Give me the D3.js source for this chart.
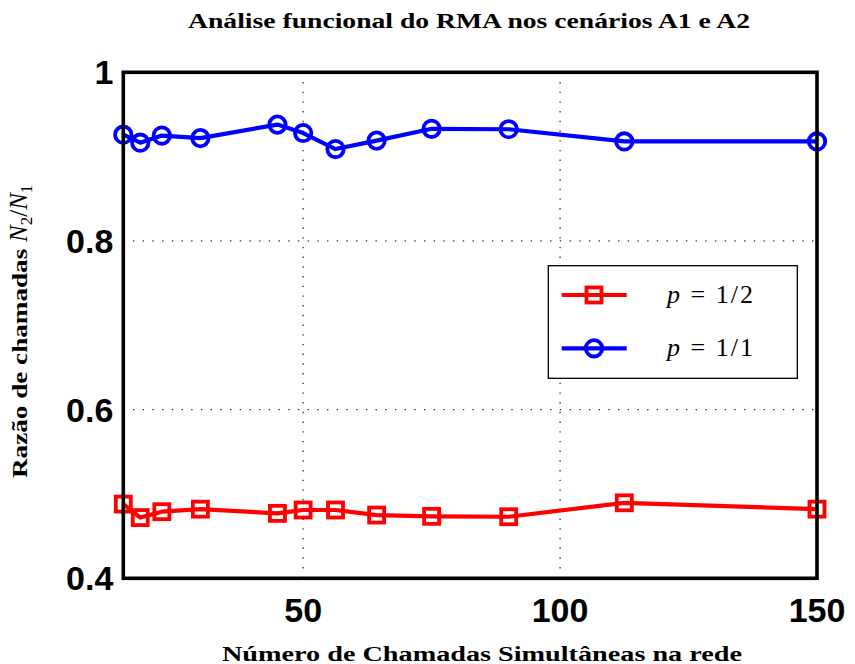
<!DOCTYPE html>
<html>
<head>
<meta charset="utf-8">
<script src="https://cdn.jsdelivr.net/npm/d3@7"></script>
<style>
  body { margin: 0; background: #fff; }
  svg { display: block; }
</style>
</head>
<body>
<svg id="chart"></svg>
<script>
// chamadas simultaneas (eixo x)
const chamadas = [15, 18.3, 22.5, 30, 45, 50, 56.3, 64.3, 75, 90, 112.5, 150];
// razao N2/N1 para cada p
const razaoMeio = [0.488, 0.472, 0.479, 0.482, 0.477, 0.481, 0.481, 0.475, 0.4735, 0.473, 0.4895, 0.482];
const razaoUm = [0.926, 0.9165, 0.925, 0.922, 0.938, 0.928, 0.909, 0.919, 0.933, 0.9325, 0.918, 0.918];
const xTicks = [50, 100, 150];
const yTicks = [0.4, 0.6, 0.8, 1];
const yTickLabels = ['0.4', '0.6', '0.8', '1'];

const W = 855, H = 664;
const m = {left: 123.3, right: 817, top: 72.3, bottom: 578.3};

const svg = d3.select('#chart').attr('width', W).attr('height', H);

const x = d3.scaleLinear().domain([15, 150]).range([m.left, m.right]);
const y = d3.scaleLinear().domain([0.4, 1]).range([m.bottom, m.top]);

// grade pontilhada
const grid = svg.append('g');
grid.selectAll('.gx').data([50, 100]).join('line')
  .attr('x1', d => x(d)).attr('x2', d => x(d))
  .attr('y1', m.top).attr('y2', m.bottom);
grid.selectAll('.gy').data([0.6, 0.8]).join('line')
  .attr('y1', d => y(d)).attr('y2', d => y(d))
  .attr('x1', m.left).attr('x2', m.right);
grid.selectAll('line')
  .attr('stroke', '#333').attr('stroke-width', 1.3)
  .attr('stroke-dasharray', '1.4,8.3');

const line = d3.line().x((d, i) => x(chamadas[i])).y(d => y(d));

const series = [
  {vals: razaoMeio, color: '#ff0000', marker: 'square', label: '1/2'},
  {vals: razaoUm, color: '#0000ff', marker: 'circle', label: '1/1'}
];

function drawMarker(g, type, cx, cy, color) {
  if (type === 'square') {
    g.append('rect').attr('x', cx - 7.5).attr('y', cy - 7.5)
      .attr('width', 15).attr('height', 15)
      .attr('fill', 'none').attr('stroke', color).attr('stroke-width', 3.8);
  } else {
    g.append('circle').attr('cx', cx).attr('cy', cy).attr('r', 8.2)
      .attr('fill', 'none').attr('stroke', color).attr('stroke-width', 3.8);
  }
}

series.forEach(s => {
  svg.append('path').datum(s.vals)
    .attr('d', line)
    .attr('fill', 'none').attr('stroke', s.color)
    .attr('stroke-width', 4.2).attr('stroke-linejoin', 'round');
  const mg = svg.append('g');
  s.vals.forEach((v, i) => drawMarker(mg, s.marker, x(chamadas[i]), y(v), s.color));
});

// caixa dos eixos
svg.append('rect')
  .attr('x', m.left).attr('y', m.top)
  .attr('width', m.right - m.left).attr('height', m.bottom - m.top)
  .attr('fill', 'none').attr('stroke', '#000').attr('stroke-width', 3.6);

// rotulos dos ticks
svg.append('g').selectAll('text').data(yTicks).join('text')
  .attr('x', m.left - 10).attr('y', d => y(d) + 12)
  .attr('text-anchor', 'end')
  .style('font', 'bold 34px "Liberation Sans", Arial, sans-serif')
  .text((d, i) => yTickLabels[i]);

svg.append('g').selectAll('text').data(xTicks).join('text')
  .attr('x', d => x(d)).attr('y', 622)
  .attr('text-anchor', 'middle')
  .style('font', 'bold 34px "Liberation Sans", Arial, sans-serif')
  .text(d => d);

// titulo e rotulos
svg.append('text')
  .attr('x', 188).attr('y', 28)
  .attr('textLength', 562).attr('lengthAdjust', 'spacingAndGlyphs')
  .style('font', 'bold 20px "Liberation Serif", serif')
  .text('Análise funcional do RMA nos cenários A1 e A2');

svg.append('text')
  .attr('x', 222).attr('y', 661)
  .attr('textLength', 520).attr('lengthAdjust', 'spacingAndGlyphs')
  .style('font', 'bold 20px "Liberation Serif", serif')
  .text('Número de Chamadas Simultâneas na rede');

const yl = svg.append('text')
  .attr('transform', 'translate(27,478) rotate(-90)')
  .style('font', 'bold 22px "Liberation Serif", serif');
yl.append('tspan').attr('textLength', 236).attr('lengthAdjust', 'spacingAndGlyphs').text('Razão de chamadas ');
yl.append('tspan').style('font', 'italic 25px "Liberation Serif", serif').text('N');
yl.append('tspan').attr('dy', 5).style('font', '17px "Liberation Serif", serif').text('2');
yl.append('tspan').attr('dy', -5).style('font', '25px "Liberation Serif", serif').text('/');
yl.append('tspan').style('font', 'italic 25px "Liberation Serif", serif').text('N');
yl.append('tspan').attr('dy', 5).style('font', '17px "Liberation Serif", serif').text('1');

// legenda
const leg = svg.append('g');
leg.append('rect')
  .attr('x', 548.3).attr('y', 265.7).attr('width', 249).attr('height', 112.6)
  .attr('fill', '#fff').attr('stroke', '#000').attr('stroke-width', 1.3);
series.forEach((s, i) => {
  const ly = 295 + i * 53.3;
  leg.append('line').attr('x1', 561.7).attr('x2', 626.7).attr('y1', ly).attr('y2', ly)
    .attr('stroke', s.color).attr('stroke-width', 4.2);
  drawMarker(leg, s.marker, 594, ly, s.color);
  const t = leg.append('text').attr('x', 667).attr('y', ly + 8)
    .attr('textLength', 86).attr('lengthAdjust', 'spacing')
    .style('font', '26px "Liberation Serif", serif');
  t.append('tspan').style('font-style', 'italic').text('p');
  t.append('tspan').text(' = ' + s.label);
});
</script>
</body>
</html>
